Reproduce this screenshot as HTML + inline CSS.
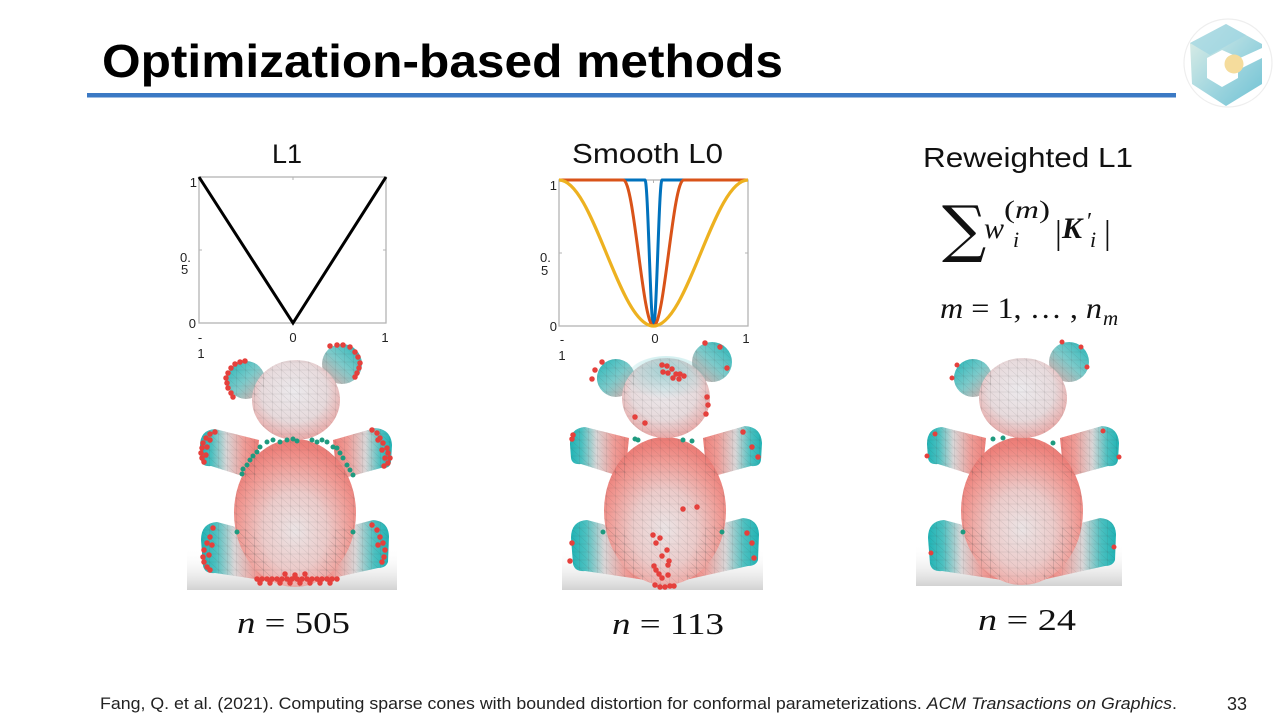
<!DOCTYPE html>
<html><head><meta charset="utf-8">
<style>
html,body{margin:0;padding:0;background:#fff;overflow:hidden}
svg{display:block}
.t{font-family:"Liberation Sans",Arial,sans-serif}
.s{font-family:"Liberation Serif","DejaVu Serif",serif}
</style></head>
<body>
<svg width="1280" height="720" viewBox="0 0 1280 720" xmlns="http://www.w3.org/2000/svg">
<defs>
  <radialGradient id="gBody" cx="0.5" cy="0.62" r="0.58">
    <stop offset="0" stop-color="#ebe4e5"/>
    <stop offset="0.45" stop-color="#eccbca"/>
    <stop offset="0.8" stop-color="#f09a94"/>
    <stop offset="1" stop-color="#ed7f79"/>
  </radialGradient>
  <radialGradient id="gHead" cx="0.48" cy="0.4" r="0.62">
    <stop offset="0" stop-color="#eceaed"/>
    <stop offset="0.6" stop-color="#e7dadc"/>
    <stop offset="1" stop-color="#e9a5a3"/>
  </radialGradient>
  <linearGradient id="gEarL" x1="0" y1="0" x2="1" y2="1">
    <stop offset="0" stop-color="#22b6b8"/>
    <stop offset="0.5" stop-color="#7ccaca"/>
    <stop offset="1" stop-color="#e9a9a7"/>
  </linearGradient>
  <linearGradient id="gEarR" x1="1" y1="0" x2="0" y2="1">
    <stop offset="0" stop-color="#22b6b8"/>
    <stop offset="0.5" stop-color="#7ccaca"/>
    <stop offset="1" stop-color="#e9a9a7"/>
  </linearGradient>
  <linearGradient id="gArmL" x1="0" y1="0" x2="1" y2="0">
    <stop offset="0" stop-color="#1fb3b5"/>
    <stop offset="0.2" stop-color="#4cc0c0"/>
    <stop offset="0.45" stop-color="#d9d6d7"/>
    <stop offset="0.75" stop-color="#ef9c97"/>
    <stop offset="1" stop-color="#ee7f79"/>
  </linearGradient>
  <linearGradient id="gArmR" x1="1" y1="0" x2="0" y2="0">
    <stop offset="0" stop-color="#1fb3b5"/>
    <stop offset="0.2" stop-color="#4cc0c0"/>
    <stop offset="0.45" stop-color="#d9d6d7"/>
    <stop offset="0.75" stop-color="#ef9c97"/>
    <stop offset="1" stop-color="#ee7f79"/>
  </linearGradient>
  <linearGradient id="gShadow" x1="0" y1="0" x2="0" y2="1">
    <stop offset="0" stop-color="#ffffff" stop-opacity="0"/>
    <stop offset="1" stop-color="#d2d2d2"/>
  </linearGradient>
  <radialGradient id="gTeal" cx="0.5" cy="0.3" r="0.6">
    <stop offset="0" stop-color="#38b9bb" stop-opacity="0.4"/>
    <stop offset="1" stop-color="#38b9bb" stop-opacity="0"/>
  </radialGradient>
  <linearGradient id="gLogo" x1="0" y1="0" x2="1" y2="1">
    <stop offset="0" stop-color="#e4f0e6"/>
    <stop offset="0.5" stop-color="#a6d8e0"/>
    <stop offset="1" stop-color="#6fc2d4"/>
  </linearGradient>
  <pattern id="mesh" width="9" height="8" patternUnits="userSpaceOnUse">
    <path d="M0 0L9 8M0 4H9M4.5 0V8" stroke="#444" stroke-width="0.3" fill="none" opacity="0.3"/>
  </pattern>

  <g id="bearSil">
    <circle cx="-49" cy="-90" r="19"/>
    <circle cx="47" cy="-106" r="20"/>
    <path d="M-36 -30 L-80 -41 Q-95 -40 -95 -24 L-94 -10 Q-93 -3 -84 -4 L-40 10 Z"/>
    <path d="M38 -30 L80 -42 Q96 -41 97 -25 L96 -8 Q95 -1 86 -2 L42 10 Z"/>
    <path d="M-40 62 L-78 52 Q-94 53 -94 70 L-92 96 Q-90 104 -80 103 L-20 112 Z"/>
    <path d="M40 60 L78 50 Q93 51 94 66 L93 92 Q91 98 83 98 L20 112 Z"/>
    <ellipse cx="0" cy="43" rx="61" ry="74"/>
    <ellipse cx="1" cy="-70" rx="44" ry="40"/>
  </g>

  <g id="bear">
    <circle cx="-49" cy="-90" r="19" fill="url(#gEarL)"/>
    <circle cx="47" cy="-106" r="20" fill="url(#gEarR)"/>
    <path d="M-36 -30 L-80 -41 Q-95 -40 -95 -24 L-94 -10 Q-93 -3 -84 -4 L-40 10 Z" fill="url(#gArmL)"/>
    <path d="M38 -30 L80 -42 Q96 -41 97 -25 L96 -8 Q95 -1 86 -2 L42 10 Z" fill="url(#gArmR)"/>
    <path d="M-40 62 L-78 52 Q-94 53 -94 70 L-92 96 Q-90 104 -80 103 L-20 112 Z" fill="url(#gArmL)"/>
    <path d="M40 60 L78 50 Q93 51 94 66 L93 92 Q91 98 83 98 L20 112 Z" fill="url(#gArmR)"/>
    <ellipse cx="0" cy="43" rx="61" ry="74" fill="url(#gBody)"/>
    <ellipse cx="1" cy="-70" rx="44" ry="40" fill="url(#gHead)"/>
    <use href="#bearSil" fill="url(#mesh)"/>
  </g>
</defs>

<rect width="1280" height="720" fill="#fff"/>

<!-- Title -->
<text class="t" x="102" y="77" font-size="46" font-weight="bold" fill="#000" textLength="681" lengthAdjust="spacingAndGlyphs">Optimization-based methods</text>
<rect x="87" y="93" width="1089" height="4.5" fill="#3b79c4"/>

<!-- Logo -->
<circle cx="1228" cy="63" r="44" fill="none" stroke="#eeeeee" stroke-width="1.2"/>
<polygon points="1190,43 1226,24 1262,44 1262,84 1226,106 1192,84" fill="url(#gLogo)"/>
<polygon points="1190,43 1226,24 1246,35 1210,55" fill="#9fd6e2" opacity="0.7"/>
<polygon points="1207,58 1222,50 1240,58 1262,48 1262,58 1238,70 1238,78 1222,87 1207,78" fill="#fff"/>
<circle cx="1234" cy="64" r="9.5" fill="#f5dc9c"/>

<!-- Column headers -->
<text class="t" x="287" y="163" font-size="27" text-anchor="middle" fill="#111">L1</text>
<text class="t" x="572" y="163" font-size="28" fill="#111" textLength="151" lengthAdjust="spacingAndGlyphs">Smooth L0</text>
<text class="t" x="923" y="167" font-size="28" fill="#111" textLength="210" lengthAdjust="spacingAndGlyphs">Reweighted L1</text>

<!-- L1 plot -->
<rect x="199" y="177" width="187" height="146" fill="none" stroke="#b4b4b4" stroke-width="1.3"/>
<path d="M293 177v3M293 323v-3M199 250h3M386 250h-3" stroke="#b4b4b4" stroke-width="1"/>
<path d="M199 177 L293 323 L386 177" fill="none" stroke="#000" stroke-width="3"/>
<g class="t" font-size="13" fill="#222">
  <text x="197" y="187" text-anchor="end">1</text>
  <text x="180" y="262">0.</text>
  <text x="181" y="274">5</text>
  <text x="196" y="328" text-anchor="end">0</text>
  <text x="200" y="342" text-anchor="middle">-</text>
  <text x="201" y="358" text-anchor="middle">1</text>
  <text x="293" y="342" text-anchor="middle">0</text>
  <text x="385" y="342" text-anchor="middle">1</text>
</g>

<!-- Smooth L0 plot -->
<rect x="559" y="180" width="189" height="146" fill="none" stroke="#b4b4b4" stroke-width="1.3"/>
<path d="M653.5 180v3M559 253h3M748 253h-3" stroke="#b4b4b4" stroke-width="1"/>
<path d="M559 180 L645 180 C648.1 180 650.4 326 653.5 326 C656.6 326 658.9 180 662 180 L748 180" fill="none" stroke="#0072bd" stroke-width="3"/>
<path d="M559 180 L623.3 180 C634.3 180 642.5 326 653.5 326 C664.5 326 672.7 180 683.7 180 L748 180" fill="none" stroke="#d95319" stroke-width="3"/>
<path d="M559 180 C593.4 180 619.1 326 653.5 326 C687.9 326 713.6 180 748 180" fill="none" stroke="#edb120" stroke-width="3.2"/>
<g class="t" font-size="13" fill="#222">
  <text x="557" y="190" text-anchor="end">1</text>
  <text x="540" y="262">0.</text>
  <text x="541" y="275">5</text>
  <text x="557" y="331" text-anchor="end">0</text>
  <text x="562" y="344" text-anchor="middle">-</text>
  <text x="562" y="360" text-anchor="middle">1</text>
  <text x="655" y="343" text-anchor="middle">0</text>
  <text x="746" y="343" text-anchor="middle">1</text>
</g>

<!-- Formula -->
<g class="s" fill="#111">
  <text x="942" y="250" font-size="62" font-family="DejaVu Serif,serif">∑</text>
  <text x="984" y="238" font-size="30" font-style="italic">w</text>
  <text x="1004" y="218" font-size="25" textLength="46" lengthAdjust="spacingAndGlyphs">(<tspan font-style="italic">m</tspan>)</text>
  <text x="1013" y="247" font-size="22" font-style="italic">i</text>
  <text x="1055" y="244" font-size="34">|</text>
  <text x="1062" y="238" font-size="30" font-style="italic" font-weight="bold">K</text>
  <text x="1087" y="229" font-size="24">′</text>
  <text x="1090" y="247" font-size="22" font-style="italic">i</text>
  <text x="1104" y="244" font-size="34">|</text>
  <text x="940" y="318" font-size="30" textLength="162" lengthAdjust="spacingAndGlyphs"><tspan font-style="italic">m</tspan> = 1, … , <tspan font-style="italic">n</tspan></text>
  <text x="1103" y="325" font-size="21" font-style="italic">m</text>
</g>

<!-- Bear panels -->
<rect x="187" y="548" width="210" height="42" fill="url(#gShadow)"/>
<rect x="562" y="548" width="201" height="42" fill="url(#gShadow)"/>
<rect x="916" y="544" width="206" height="42" fill="url(#gShadow)"/>

<use href="#bear" transform="translate(295,470)"/>
<use href="#bear" transform="translate(665,468)"/>
<ellipse cx="666" cy="380" rx="40" ry="24" fill="url(#gTeal)"/>
<use href="#bear" transform="translate(1022,468)"/>

<!-- L1 dots -->
<path fill="none" stroke="#e5403c" stroke-width="5.5" stroke-linecap="round" d="
M245 361h0M240 362h0M235 364h0M231 368h0M228 373h0M226 378h0M227 383h0M228 388h0M231 393h0M233 397h0
M330 346h0M337 345h0M343 345h0M350 347h0M355 352h0M358 357h0M360 363h0M359 368h0M357 373h0M355 377h0
M215 432h0M210 434h0M206 438h0M203 443h0M202 448h0M201 453h0M202 458h0M204 462h0M210 440h0M207 447h0M206 455h0
M372 430h0M377 433h0M380 438h0M383 443h0M387 448h0M388 453h0M390 458h0M388 463h0M384 466h0M378 440h0M382 450h0M385 458h0
M213 528h0M210 537h0M207 543h0M204 550h0M203 557h0M204 562h0M207 567h0M210 570h0M212 545h0M209 555h0
M372 525h0M377 530h0M380 537h0M383 543h0M385 550h0M384 557h0M382 562h0M378 545h0
M257 579h0M262 579h0M267 579h0M272 579h0M277 579h0M282 579h0M287 579h0M292 579h0M297 579h0M302 579h0M307 579h0M312 579h0M317 579h0M322 579h0M327 579h0M332 579h0M337 579h0
M260 583h0M270 583h0M280 583h0M290 583h0M300 583h0M310 583h0M320 583h0M330 583h0M285 574h0M295 575h0M305 574h0"/>
<path fill="none" stroke="#1e9a7f" stroke-width="5" stroke-linecap="round" d="
M260 447h0M267 442h0M273 440h0M280 442h0M287 440h0M293 439h0M297 441h0M312 440h0M317 442h0M322 440h0M327 442h0M333 447h0M337 448h0
M257 452h0M253 456h0M250 460h0M247 465h0M243 469h0M242 474h0M340 453h0M343 458h0M347 465h0M350 470h0M353 475h0M237 532h0M353 532h0"/>

<!-- Smooth L0 dots -->
<path fill="none" stroke="#e5403c" stroke-width="5.5" stroke-linecap="round" d="
M662 365h0M667 366h0M663 372h0M668 373h0M672 369h0M676 374h0M680 374h0M684 376h0M673 378h0M679 379h0
M602 362h0M595 370h0M592 379h0M705 343h0M720 347h0M727 368h0M707 397h0M708 405h0M706 414h0M635 417h0M645 423h0
M573 435h0M572 439h0M743 432h0M752 447h0M758 457h0M683 509h0M697 507h0
M653 535h0M660 538h0M656 543h0M667 550h0M662 556h0M669 561h0M668 565h0M654 566h0M656 570h0M659 574h0M662 578h0M668 575h0M655 585h0M660 587h0M665 587h0M670 586h0M674 586h0
M572 543h0M570 561h0M747 533h0M752 543h0M754 558h0"/>
<path fill="none" stroke="#1e9a7f" stroke-width="5" stroke-linecap="round" d="
M635 439h0M638 440h0M683 440h0M692 441h0M603 532h0M722 532h0"/>

<!-- Reweighted L1 dots -->
<path fill="none" stroke="#e5403c" stroke-width="5" stroke-linecap="round" d="
M957 365h0M952 378h0M1062 342h0M1081 347h0M1087 367h0M935 434h0M927 456h0M1103 431h0M1119 457h0M931 553h0M1114 547h0"/>
<path fill="none" stroke="#1e9a7f" stroke-width="5" stroke-linecap="round" d="
M993 439h0M1003 438h0M1053 443h0M963 532h0"/>

<!-- n labels -->
<g class="s" fill="#111" font-size="31">
  <text x="237" y="633" textLength="113" lengthAdjust="spacingAndGlyphs"><tspan font-style="italic">n</tspan> = 505</text>
  <text x="612" y="634" textLength="112" lengthAdjust="spacingAndGlyphs"><tspan font-style="italic">n</tspan> = 113</text>
  <text x="978" y="630" textLength="98" lengthAdjust="spacingAndGlyphs"><tspan font-style="italic">n</tspan> = 24</text>
</g>

<!-- Footer -->
<text class="t" x="100" y="709" font-size="17" fill="#222" textLength="1077" lengthAdjust="spacingAndGlyphs">Fang, Q. et al. (2021). Computing sparse cones with bounded distortion for conformal parameterizations. <tspan font-style="italic">ACM Transactions on Graphics</tspan>.</text>
<text class="t" x="1227" y="710" font-size="18" fill="#222">33</text>
</svg>
</body></html>
